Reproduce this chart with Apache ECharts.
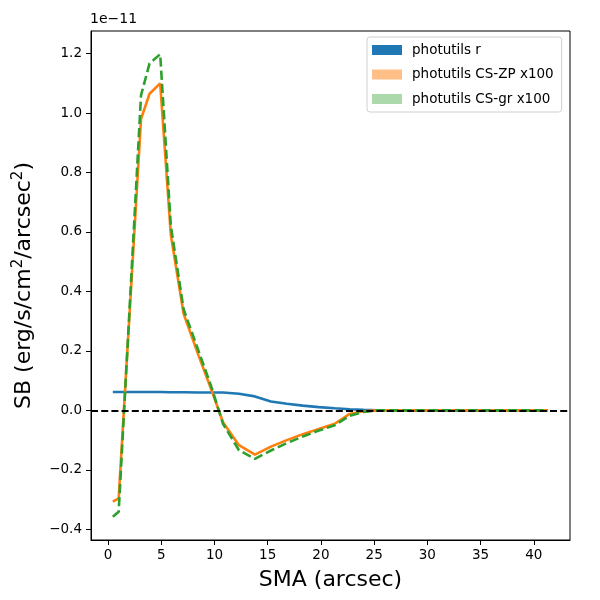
<!DOCTYPE html>
<html>
<head>
<meta charset="utf-8">
<script src="https://cdn.jsdelivr.net/npm/echarts@6/dist/echarts.min.js"></script>
<style>
  html, body { margin: 0; padding: 0; background: #fff; }
  #main { width: 600px; height: 600px; }
</style>
</head>
<body>
<div id="main"></div>
<script>
// semi-major axis (arcsec)
var sma = [0.45, 1.0, 3.1, 3.9, 4.9, 5.9, 7.1, 8.5, 9.7, 10.8, 12.3, 13.8, 15.3, 16.8, 18.3,
           19.8, 21.3, 22.7, 24.0, 25.3, 27.0, 29.0, 31.0, 33.0, 35.0, 37.0, 39.0, 41.3];
// surface brightness, units of 1e-11
var sbR  = [0.062, 0.062, 0.062, 0.062, 0.062, 0.061, 0.061, 0.060, 0.060, 0.060, 0.056, 0.047, 0.030, 0.022, 0.016,
            0.011, 0.007, 0.004, 0.002, 0.0005, 0.0, 0.0, 0.0, 0.0, 0.0, 0.0, 0.0, 0.0];
var sbZP = [-0.307, -0.296, 0.98, 1.065, 1.10, 0.59, 0.325, 0.185, 0.07, -0.04, -0.117, -0.149, -0.122, -0.100, -0.080,
            -0.063, -0.045, -0.012, -0.003, 0.0, 0.0, 0.0, 0.0, 0.0, 0.0, 0.0, 0.0, 0.0];
var sbGR = [-0.358, -0.341, 1.06, 1.167, 1.198, 0.62, 0.34, 0.20, 0.08, -0.045, -0.134, -0.163, -0.135, -0.110, -0.088,
            -0.068, -0.050, -0.018, -0.005, 0.0, 0.0, 0.0, 0.0, 0.0, 0.0, 0.0, 0.0, 0.0];
var xTicks = [0, 5, 10, 15, 20, 25, 30, 35, 40];
var yTicks = [-0.4, -0.2, 0.0, 0.2, 0.4, 0.6, 0.8, 1.0, 1.2];

function pairs(xs, ys) {
    return xs.map(function (x, i) { return [x, ys[i]]; });
}

var myChart = echarts.init(document.getElementById('main'));
var font = 'DejaVu Sans';

var option = {
    animation: false,
    textStyle: { fontFamily: font },
    grid: {
        left: 91, top: 31, right: 30, bottom: 60,
        show: true, borderColor: '#000', borderWidth: 1
    },
    graphic: [{
        type: 'text', left: 90, top: 12,
        style: { text: '1e\u221211', font: '14px "DejaVu Sans"', fill: '#000' }
    }],
    legend: {
        orient: 'vertical',
        left: 367, top: 37,
        padding: [6, 8, 6, 5],
        borderColor: '#d0d0d0', borderWidth: 1, borderRadius: 3,
        backgroundColor: 'rgba(255,255,255,0.8)',
        icon: 'rect',
        itemWidth: 30, itemHeight: 10, itemGap: 10.5,
        itemStyle: { borderWidth: 0 },
        textStyle: { fontFamily: font, fontSize: 13.5, color: '#000', padding: [0, 0, 0, 5] },
        data: [
            { name: 'photutils r', itemStyle: { color: '#1f77b4' } },
            { name: 'photutils CS-ZP x100', itemStyle: { color: '#ffbf87' } },
            { name: 'photutils CS-gr x100', itemStyle: { color: '#abd9ab' } }
        ]
    },
    xAxis: {
        type: 'value', min: -1.6, max: 43.4,
        name: 'SMA (arcsec)', nameLocation: 'middle', nameGap: 29,
        nameTextStyle: { fontFamily: font, fontSize: 22, color: '#000' },
        axisLine: { onZero: false, lineStyle: { color: '#000' } },
        axisTick: { inside: false, length: 5, lineStyle: { color: '#000' }, customValues: xTicks },
        axisLabel: { margin: 8, fontSize: 13.5, color: '#000', customValues: xTicks },
        splitLine: { show: false }
    },
    yAxis: {
        type: 'value', min: -0.436, max: 1.276,
        name: 'SB (erg/s/cm{sup|2}/arcsec{sup|2})', nameLocation: 'middle', nameGap: 54, nameRotate: 90,
        nameTextStyle: {
            fontFamily: font, fontSize: 22, color: '#000',
            rich: { sup: { fontFamily: font, fontSize: 15, color: '#000', padding: [0, 0, 11, 0] } }
        },
        axisLine: { onZero: false, lineStyle: { color: '#000' } },
        axisTick: { inside: false, length: 5, lineStyle: { color: '#000' }, customValues: yTicks },
        axisLabel: {
            margin: 9, fontSize: 13.5, color: '#000', customValues: yTicks,
            formatter: function (v) { return (v < 0 ? '\u2212' : '') + Math.abs(v).toFixed(1); }
        },
        splitLine: { show: false }
    },
    series: [
        {
            name: 'photutils r', type: 'line', data: pairs(sma, sbR),
            showSymbol: false, z: 2,
            lineStyle: { color: '#1f77b4', width: 2.6 }, itemStyle: { color: '#1f77b4' }
        },
        {
            name: 'photutils CS-ZP x100', type: 'line', data: pairs(sma, sbZP),
            showSymbol: false, z: 3,
            lineStyle: { color: '#ff7f0e', width: 2.6 }, itemStyle: { color: '#ff7f0e' }
        },
        {
            name: 'photutils CS-gr x100', type: 'line', data: pairs(sma, sbGR),
            showSymbol: false, z: 4,
            lineStyle: { color: '#2ca02c', width: 2.6, type: [9.2, 4] }, itemStyle: { color: '#2ca02c' }
        },
        {
            name: 'zero', type: 'line', data: [], z: 5,
            markLine: {
                silent: true, symbol: 'none', label: { show: false },
                lineStyle: { color: '#000', width: 2, type: [7, 3.2] },
                data: [{ yAxis: 0 }]
            }
        }
    ]
};

myChart.setOption(option);
</script>
</body>
</html>
